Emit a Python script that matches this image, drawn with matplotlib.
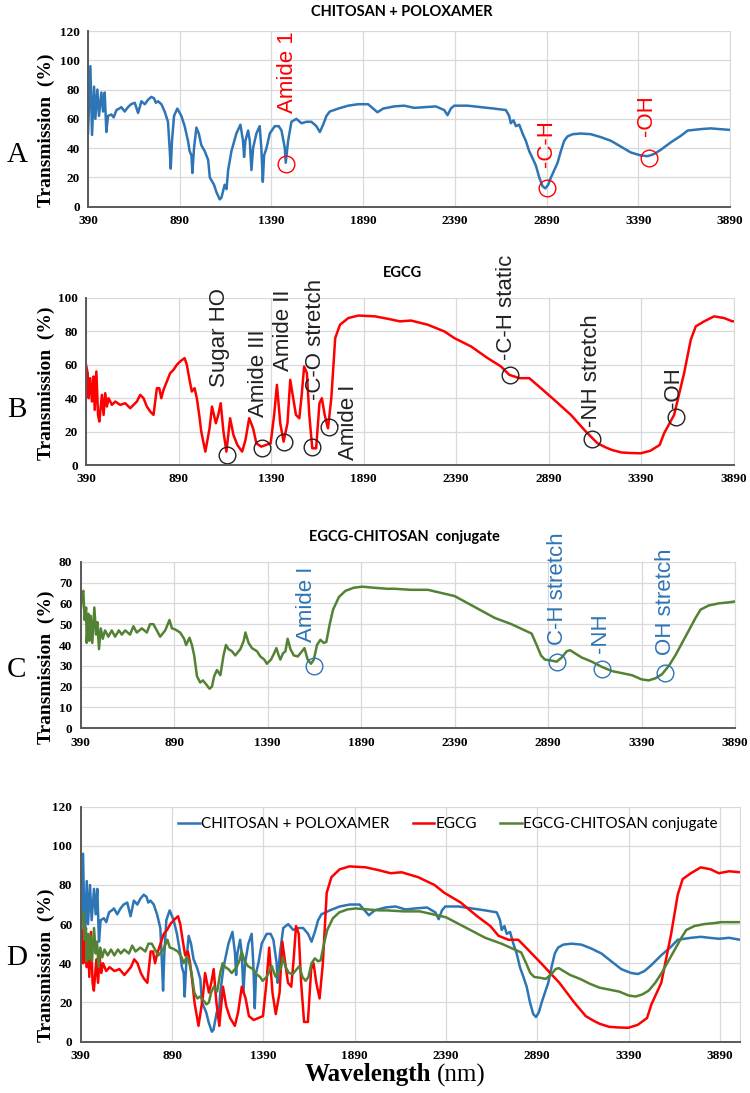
import matplotlib
matplotlib.use("Agg")
import matplotlib.pyplot as plt

# FTIR spectra, values (wavenumber, % transmission)
chit_x = [390, 403, 412, 423, 430, 441, 450, 463, 472, 481, 490, 499, 517, 530, 545, 560,
          572, 590, 608, 625, 645, 663, 681, 700, 717, 735, 750, 760, 772, 790, 808, 826,
          835, 841, 848, 859, 877, 899, 917, 935, 944, 954, 959, 968, 981, 994, 1008, 1026,
          1045, 1054, 1063, 1077, 1090, 1108, 1117, 1135, 1145, 1154, 1172, 1199, 1221, 1235,
          1241, 1248, 1263, 1272, 1281, 1290, 1308, 1326, 1335, 1343, 1350, 1363, 1381, 1408,
          1430, 1445, 1463, 1468, 1481, 1499, 1526, 1554, 1581, 1608, 1635, 1654, 1672, 1690,
          1708, 1754, 1808, 1863, 1917, 1945, 1968, 1999, 2059, 2114, 2168, 2223, 2286, 2332,
          2350, 2368, 2386, 2459, 2532, 2605, 2668, 2686, 2695, 2710, 2723, 2741, 2759, 2777,
          2795, 2814, 2832, 2850, 2868, 2883, 2899, 2914, 2932, 2950, 2968, 2986, 3004, 3032,
          3077, 3132, 3186, 3241, 3295, 3350, 3404, 3441, 3477, 3514, 3568, 3623, 3659, 3695,
          3732, 3786, 3832, 3886, 3940, 4000]
chit_y = [50, 96, 49, 82, 60, 80, 62, 78, 65, 78, 51, 62, 63, 61, 66, 67,
          68, 65, 68, 70, 71, 64, 72, 70, 73, 75, 74, 71, 72, 70, 65, 58,
          40, 26, 45, 62, 67, 62, 55, 45, 38, 35, 23, 40, 54, 50, 42, 38,
          32, 20, 18, 15, 10, 5, 6, 15, 12, 25, 38, 50, 56, 45,
          34, 45, 52, 45, 25, 40, 50, 55, 40, 17, 35, 40, 50, 55,
          55, 52, 40, 30, 45, 58, 60, 57, 58, 58, 55, 51, 56, 62,
          65, 67, 69, 70, 70, 67, 64.5, 67, 68.5, 69, 67.5, 68, 68.5, 66,
          62.5, 67, 69, 69, 68, 67, 66, 62, 57, 59, 55, 56, 50, 45,
          38, 33, 28, 20, 14, 12.5, 15, 20, 25, 30, 38, 45, 48, 49.5,
          50, 49.5, 47.5, 45, 41, 37, 35, 34.5, 36, 39, 44, 48.5, 52, 52.5,
          53, 53.5, 53, 52.5, 53, 52]

egcg_x = [390, 399, 404, 413, 422, 431, 437, 446, 455, 462, 476, 485, 494, 503, 512, 530,
          548, 575, 602, 629, 647, 665, 683, 701, 719, 737, 755, 764, 773, 786, 797, 809,
          827, 845, 863, 881, 899, 923, 935, 948, 962, 977, 989, 1002, 1013, 1035, 1058, 1071,
          1092, 1105, 1118, 1133, 1149, 1169, 1187, 1208, 1234, 1252, 1272, 1293, 1311, 1337,
          1363, 1388, 1407, 1422, 1440, 1458, 1479, 1494, 1510, 1525, 1543, 1556, 1569, 1584,
          1597, 1613, 1634, 1652, 1665, 1680, 1698, 1716, 1737, 1763, 1808, 1862, 1952, 2024,
          2087, 2147, 2237, 2327, 2381, 2471, 2561, 2633, 2678, 2732, 2786, 2849, 2921, 3011,
          3092, 3155, 3200, 3233, 3284, 3330, 3388, 3440, 3491, 3515, 3569, 3623, 3659, 3686,
          3731, 3785, 3839, 3884, 3940, 4000]
egcg_y = [60, 55, 40, 52, 38, 53, 33, 56, 30, 26, 42, 30, 43, 35, 40, 36,
          38, 36, 37, 34, 36, 38, 42, 40, 35, 32, 30, 38, 46, 46, 40, 45,
          50, 55, 57, 60, 62, 64, 60, 52, 44, 46, 40, 30, 20, 8, 22, 35,
          25, 30, 37, 20, 8, 28, 18, 12, 8, 15, 28, 22, 13, 11,
          12, 13, 30, 48, 25, 14, 25, 51, 40, 30, 28, 42, 59, 55,
          30, 10, 10, 37, 40, 30, 22, 40, 76, 84, 88, 89.5, 89, 87.5,
          86, 86.5, 84, 80, 76, 71, 64, 59, 54, 52, 52, 46, 39, 30,
          20, 13, 10.5, 9, 7.5, 7.2, 7, 8.5, 12, 19, 30, 55, 75, 83,
          86, 89, 88, 86, 87, 86.5]

conj_x = [390, 397, 404, 411, 419, 422, 431, 436, 444, 452, 463, 472, 479, 488, 497, 508,
          520, 538, 556, 574, 594, 610, 628, 654, 672, 690, 717, 744, 761, 779, 797, 815,
          842, 865, 878, 895, 922, 943, 954, 972, 985, 997, 1012, 1029, 1044, 1062, 1079, 1092,
          1104, 1119, 1137, 1154, 1167, 1181, 1199, 1217, 1244, 1262, 1271, 1288, 1306, 1333,
          1351, 1372, 1386, 1408, 1422, 1437, 1449, 1458, 1472, 1485, 1497, 1512, 1530, 1551,
          1574, 1587, 1604, 1622, 1637, 1654, 1672, 1690, 1704, 1722, 1740, 1771, 1806, 1851,
          1896, 1958, 2030, 2068, 2157, 2247, 2318, 2390, 2462, 2533, 2605, 2694, 2766, 2802,
          2829, 2852, 2873, 2909, 2936, 2963, 2990, 3008, 3034, 3070, 3124, 3178, 3231, 3285,
          3339, 3390, 3428, 3464, 3500, 3536, 3571, 3607, 3643, 3679, 3706, 3750, 3804, 3858,
          3897, 3940, 4000]
conj_y = [57, 64, 66, 52, 58, 41, 55, 42, 54, 41, 58, 45, 51, 38, 48, 43,
          47, 44, 47, 44, 47, 45, 47, 45, 49, 46, 48, 46, 50, 50, 47, 44,
          47, 52, 48, 47.5, 46, 43, 40, 43.5, 40, 35, 25, 22, 23, 21, 19, 20,
          25, 28, 25.5, 35, 40, 38, 37, 35, 38, 42, 46, 41, 38.5, 37,
          34.5, 33, 31, 33, 35.5, 38.5, 35, 33, 36, 37, 43, 38, 35, 34.5,
          37, 38.5, 33, 31, 33, 40, 42.5, 41, 41.5, 50, 57, 63, 66, 67.5,
          68, 67.5, 67, 67, 66.5, 66.5, 65, 63.5, 60, 56.5, 53, 50, 47, 45.5,
          40, 35, 33, 32.5, 32, 34, 37, 37.5, 36, 34, 32, 29.5, 27.5, 26.5,
          25.5, 23.5, 23, 24, 26, 30, 35, 41, 47, 53, 57, 59, 60, 60.5,
          61, 61, 61]

xticks = [390, 890, 1390, 1890, 2390, 2890, 3390, 3890]

# peak labels and the circled points
a_labels = ["Amide 1", "-C-H", "-OH"]
a_lab_x = [1480, 2887, 3435]
a_lab_y = [64, 27, 48]
a_pk_x = [1470, 2891, 3449]
a_pk_y = [29, 12.6, 33]

b_labels = ["Sugar HO", "Amide III", "Amide II", "-C-O stretch", "Amide I",
            "-C-H static", "-NH stretch", "-OH"]
b_lab_x = [1114, 1321, 1457, 1628, 1808, 2664, 3124, 3565]
b_lab_y = [47, 29, 56, 39, 3, 63, 23, 34]
b_pk_x = [1152, 1341, 1458, 1611, 1704, 2681, 3125, 3580]
b_pk_y = [6, 10, 14, 11, 23, 54, 15.6, 29]

c_labels = ["Amide I", "C-H stretch", "-NH", "OH stretch"]
c_lab_x = [1600, 2940, 3173, 3518]
c_lab_y = [41.4, 40, 36, 35.2]
c_pk_x = [1636, 2937, 3177, 3518]
c_pk_y = [30, 31.7, 28.3, 26.4]

BLUE = "#2e75b6"
RED = "#ff0000"
GREEN = "#548235"
SERIF = "Liberation Serif"

W, H = 750, 1093
fig = plt.figure(figsize=(W / 100, H / 100), dpi=100)


def pbox(x0, x1, y0, y1):
    # pixel box, origin top-left -> figure fraction rect
    return [x0 / W, 1 - y1 / H, (x1 - x0) / W, (y1 - y0) / H]


def style(ax, ymax, ystep, xmax=3890):
    ax.set_xlim(390, xmax)
    ax.set_ylim(0, ymax)
    ax.set_xticks(xticks)
    ax.set_yticks(range(0, ymax + 1, ystep))
    ax.grid(True, color="#d9d9d9", lw=0.9)
    ax.set_axisbelow(True)
    ax.spines["top"].set_visible(False)
    ax.spines["right"].set_color("#d9d9d9")
    for s in ["left", "bottom"]:
        ax.spines[s].set_color("#595959")
        ax.spines[s].set_linewidth(1.4)
    ax.tick_params(length=0, pad=6)
    for lab in ax.get_xticklabels() + ax.get_yticklabels():
        lab.set_fontfamily(SERIF)
        lab.set_fontweight("bold")
        lab.set_fontsize(9.5)


def peaks(ax, labels, lx, ly, px, py, color):
    for t, x, y in zip(labels, lx, ly):
        ax.text(x, y, t, rotation=90, ha="center", va="bottom", color=color,
                fontsize=16, family="Liberation Sans", clip_on=False)
    ax.plot(px, py, "o", ms=12, mfc="none", mec=color, mew=1, ls="none", clip_on=False)


def side_text(yc, letter):
    fig.text(17 / W, 1 - yc / H, letter, family=SERIF, fontsize=21, ha="center", va="center")


def ylab(yc):
    fig.text(46 / W, 1 - yc / H, "Transmission  (%)", family=SERIF, fontweight="bold",
             fontsize=14, rotation=90, ha="center", va="center")


# A
axA = fig.add_axes(pbox(88, 730, 31, 206.7))
axA.plot(chit_x, chit_y, color=BLUE, lw=1.8)
style(axA, 120, 20)
peaks(axA, a_labels, a_lab_x, a_lab_y, a_pk_x, a_pk_y, RED)
fig.text(402 / W, 1 - 12 / H, "CHITOSAN + POLOXAMER", family="Lato", fontweight="bold",
         fontsize=10.5, ha="center", va="center")
side_text(155, "A")
ylab(130)

# B
axB = fig.add_axes(pbox(86, 733.5, 298, 465))
axB.plot(egcg_x, egcg_y, color=RED, lw=1.8)
style(axB, 100, 20)
peaks(axB, b_labels, b_lab_x, b_lab_y, b_pk_x, b_pk_y, "#222222")
fig.text(402 / W, 1 - 273 / H, "EGCG", family="Lato", fontweight="bold",
         fontsize=10.5, ha="center", va="center")
side_text(410, "B")
ylab(383)

# C
axC = fig.add_axes(pbox(80.7, 735, 561.7, 728.3))
axC.plot(conj_x, conj_y, color=GREEN, lw=1.8)
style(axC, 80, 10)
peaks(axC, c_labels, c_lab_x, c_lab_y, c_pk_x, c_pk_y, BLUE)
fig.text(404 / W, 1 - 537 / H, "EGCG-CHITOSAN  conjugate", family="Lato", fontweight="bold",
         fontsize=10.5, ha="center", va="center")
side_text(670, "C")
ylab(667)

# D - all three together
axD = fig.add_axes(pbox(80.7, 740, 806.7, 1041.5))
axD.plot(chit_x, chit_y, color=BLUE, lw=1.8, label="CHITOSAN + POLOXAMER")
axD.plot(egcg_x, egcg_y, color=RED, lw=1.8, label="EGCG")
axD.plot(conj_x, conj_y, color=GREEN, lw=1.8, label="EGCG-CHITOSAN conjugate")
style(axD, 120, 20, xmax=4000)
fig.legend(loc="center", bbox_to_anchor=(448 / W, 1 - 824 / H), ncol=3, frameon=False,
           prop={"family": "Lato", "size": 11}, handlelength=1.4, handletextpad=0.1,
           columnspacing=1.5)
side_text(958, "D")
ylab(965)
fig.text(431 / W, 1 - 1075 / H, "Wavelength", family=SERIF, fontweight="bold",
         fontsize=18, ha="right", va="center")
fig.text(437 / W, 1 - 1075 / H, "(nm)", family=SERIF, fontsize=18, ha="left", va="center")

fig.savefig("out.png", dpi=100)
